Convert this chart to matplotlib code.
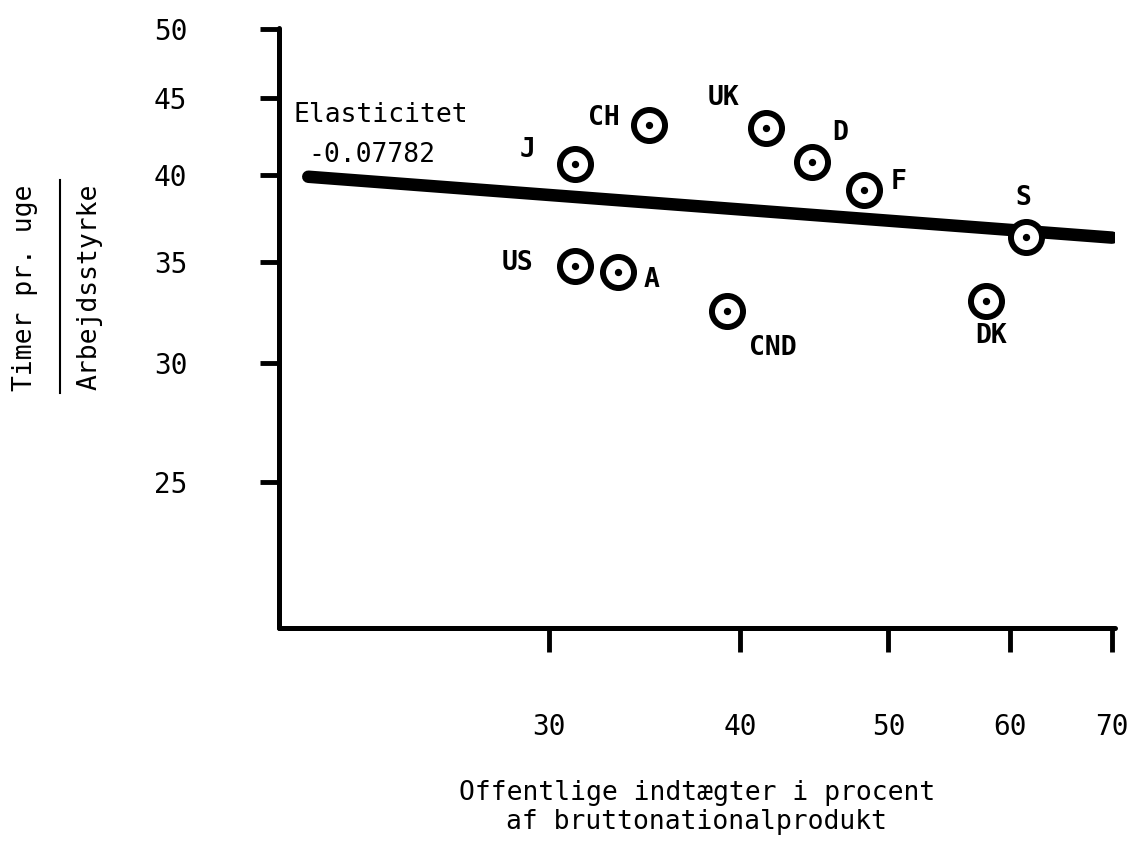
import matplotlib
matplotlib.use("Agg")
import matplotlib.pyplot as plt
from matplotlib.ticker import FixedLocator, NullLocator, FixedFormatter

# ---- data ----
countries = ["J", "CH", "UK", "D", "F", "S", "US", "A", "CND", "DK"]
revenue_pct = [31.2, 34.9, 41.6, 44.6, 48.2, 61.5, 31.2, 33.3, 39.2, 57.9]
hours_per_week = [40.7, 43.2, 43.0, 40.8, 39.1, 36.4, 34.8, 34.5, 32.5, 33.0]
fit_x = [20.9, 70.0]
fit_y = [39.9, 36.35]
elasticity_text = ["Elasticitet", "-0.07782"]
x_ticks = [30, 40, 50, 60, 70]
y_ticks = [25, 30, 35, 40, 45, 50]

# label offsets (pixels, baseline) relative to each point
label_offsets = {
    "J": (-47, 7), "CH": (-45, 0), "UK": (-43, 23), "D": (28, 22),
    "F": (35, 1), "S": (-3, 32), "US": (-57, -4), "A": (33, -15),
    "CND": (46, -44), "DK": (5, -42),
}

W, H = 1143, 847
fig = plt.figure(figsize=(W / 100, H / 100), dpi=100)
ax = fig.add_axes([279 / W, 1 - 628 / H, (1115 - 279) / W, (628 - 28) / H])
ax.set_xscale("log")
ax.set_yscale("log")
ax.set_xlim(20.0, 70.3)
ax.set_ylim(20.0, 50.1)

mono = "DejaVu Sans Mono"
FS = 19

# regression line
ax.plot(fit_x, fit_y, color="black", lw=9, solid_capstyle="round", zorder=2)

# points: ring with a dot
ax.scatter(revenue_pct, hours_per_week, s=500, facecolor="white",
           edgecolor="black", linewidths=4.3, zorder=3)
ax.scatter(revenue_pct, hours_per_week, s=18, color="black", zorder=4)

for c, xv, yv in zip(countries, revenue_pct, hours_per_week):
    dx, dy = label_offsets[c]
    ax.annotate(c, (xv, yv), xytext=(dx, dy), textcoords="offset pixels",
                ha="center", va="baseline", fontsize=FS, family=mono,
                fontweight="bold", color="black", zorder=5)

# elasticity text
fig.text(293 / W, 1 - 122 / H, elasticity_text[0], ha="left", va="baseline",
         fontsize=FS, family=mono)
fig.text(308 / W, 1 - 162 / H, elasticity_text[1], ha="left", va="baseline",
         fontsize=FS, family=mono)

# axes styling
for s in ["top", "right"]:
    ax.spines[s].set_visible(False)
for s in ["left", "bottom"]:
    ax.spines[s].set_linewidth(3.6)
    ax.spines[s].set_capstyle("round")

ax.xaxis.set_major_locator(FixedLocator(x_ticks))
ax.xaxis.set_major_formatter(FixedFormatter([str(v) for v in x_ticks]))
ax.xaxis.set_minor_locator(NullLocator())
ax.yaxis.set_major_locator(FixedLocator(y_ticks))
ax.yaxis.set_major_formatter(FixedFormatter([str(v) for v in y_ticks]))
ax.yaxis.set_minor_locator(NullLocator())

ax.tick_params(axis="x", direction="out", length=17, width=3.5, pad=44,
               labelsize=20)
ax.tick_params(axis="y", direction="out", length=14, width=3.5, pad=52,
               labelsize=20)
for lab in ax.get_xticklabels() + ax.get_yticklabels():
    lab.set_family(mono)

# x-axis label (centred under the axis)
fig.text(697 / W, 1 - 800 / H, "Offentlige indtægter i procent",
         ha="center", va="baseline", fontsize=FS, family=mono)
fig.text(697 / W, 1 - 829 / H, "af bruttonationalprodukt",
         ha="center", va="baseline", fontsize=FS, family=mono)

# y-axis label as a fraction
fig.text(25 / W, 1 - 288 / H, "Timer pr. uge", rotation=90,
         ha="center", va="center", fontsize=FS, family=mono)
fig.text(90 / W, 1 - 287 / H, "Arbejdsstyrke", rotation=90,
         ha="center", va="center", fontsize=FS, family=mono)
fig.add_artist(plt.Line2D([60 / W, 60 / W], [1 - 180 / H, 1 - 393 / H],
                          transform=fig.transFigure, color="black", lw=1.5))

fig.savefig("out.png", dpi=100, facecolor="white")
